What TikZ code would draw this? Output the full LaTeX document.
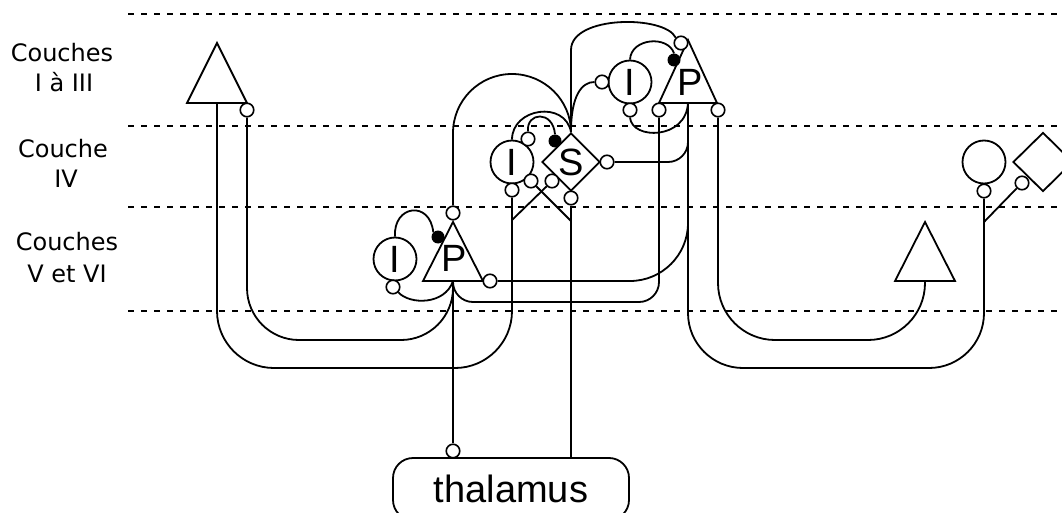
\documentclass[tikz,border=0pt]{standalone}
\usepackage{fontspec}
\setmainfont{Liberation Sans}
\newfontfamily\labfont{DejaVu Sans}
\usetikzlibrary{shapes.geometric}
\tikzset{
  layerline/.style={line width=2pt, dash pattern=on 5.5pt off 7.5pt},
  wire/.style={line width=1.8pt},
  syn/.style={circle, draw, fill=white, line width=1.6pt, minimum size=13.5pt, inner sep=0pt},
  inh/.style={circle, fill=black, minimum size=13pt, inner sep=0pt},
  inter/.style={circle, draw, fill=white, line width=1.8pt, minimum size=43pt, inner sep=0pt, font=\fontsize{38}{38}\selectfont},
  stell/.style={diamond, draw, fill=white, line width=1.8pt, minimum width=58pt, minimum height=58pt, inner sep=0pt, font=\fontsize{38}{38}\selectfont},
  letter/.style={inner sep=0pt, font=\fontsize{38}{38}\selectfont},
  lab/.style={anchor=base, inner sep=0pt, font=\labfont\fontsize{24}{30}\selectfont},
}
\begin{document}
\begin{tikzpicture}[x=1pt,y=-1pt]
\useasboundingbox (0,0) rectangle (1062,513);
% layer boundaries
\foreach \yy in {14,126,207,311} \draw[layerline] (128,\yy) -- (1062,\yy);
% layer labels
\node[lab] (l1) at (62,62) {Couches};
\node[lab] (l2) at (64,92) {I à III};
\node[lab] (l3) at (63,158) {Couche};
\node[lab] (l4) at (66,187) {IV};
\node[lab] (l5) at (67,250) {Couches};
\node[lab] (l6) at (67,282) {V et VI};
% triangles (pyramidal cells)
\coordinate (tLa) at (217,43); \coordinate (tLl) at (187,103); \coordinate (tLr) at (247,103); \coordinate (tLb) at (217,103);
\coordinate (PlA) at (453,222); \coordinate (PlL) at (423,281); \coordinate (PlR) at (483,281); \coordinate (Plb) at (453,281);
\coordinate (PuA) at (688,40); \coordinate (PuL) at (659,103); \coordinate (PuR) at (717,103); \coordinate (Pub) at (688,103);
\coordinate (TrA) at (925,222); \coordinate (TrL) at (895,281); \coordinate (TrR) at (955,281); \coordinate (Trb) at (925,281);
\draw[wire] (tLa) -- (tLl) -- (tLr) -- cycle;
\draw[wire] (PlA) -- (PlL) -- (PlR) -- cycle;
\draw[wire] (PuA) -- (PuL) -- (PuR) -- cycle;
\draw[wire] (TrA) -- (TrL) -- (TrR) -- cycle;
\node[letter] (Pl) at (454,258) {P};
\node[letter] (Pu) at (690,82) {P};
% interneurons and stellate cells
\node[inter] (Il) at (395,259) {I};
\node[inter] (Im) at (512,162) {I};
\node[inter] (Iu) at (630,82) {I};
\node[inter] (Ir) at (984,162) {};
\node[stell] (S) at (571,162) {S};
\node[stell, minimum width=60pt, minimum height=59pt] (Sr) at (1043,162) {};
% thalamus
\node[draw, line width=1.8pt, rounded corners=20pt, minimum width=236pt, minimum height=62pt, inner sep=0pt, font=\fontsize{38}{38}\selectfont] (thal) at (511,489) {thalamus};
% synapses
\node[syn] (cTL) at (247,110) {};
\node[syn] (cPla) at (453,213) {};
\node[syn] (cPlr) at (490,281) {};
\node[inh] (dPl) at (438,237) {};
\node[syn] (cIlb) at (393,287) {};
\node[syn] (cImt) at (528,139) {};
\node[syn] (cImr) at (531,181) {};
\node[syn] (cImb) at (512,190) {};
\node[syn] (cSr) at (607,162) {};
\node[syn] (cSb) at (571,198) {};
\node[syn] (cSl) at (552,181) {};
\node[inh] (dS) at (555,141) {};
\node[syn] (cIul) at (602,82) {};
\node[syn] (cIub) at (630,110) {};
\node[syn] (cPua) at (681,43) {};
\node[inh] (dPu) at (674,60) {};
\node[syn] (cPul) at (659,110) {};
\node[syn] (cPur) at (718,110) {};
\node[syn] (cIrb) at (984,191) {};
\node[syn] (cSrl) at (1022,183) {};
\node[syn] (cTh) at (453,451) {};
% junction points
\coordinate (xa) at (571,221);
\coordinate (xb) at (512,220);
\coordinate (rj) at (984,222);
% connectors
\draw[wire, rounded corners=57pt] (tLb) |- (512,368) -- (cImb.south);
\draw[wire, rounded corners=52pt] (cTL.south) |- (453,340) -- (Plb);
\draw[wire] (Plb) -- (cTh.north);
\draw[wire] (cSb.south) -- (cSb.south |- thal.north);
\draw[wire] (cImr.south east) -- (xa);
\draw[wire] (cSl.south west) -- (xb);
\draw[wire] (Il.north) .. controls (393,205) and (430,200) .. (dPl.north west);
\draw[wire] (cIlb.south east) .. controls (410,305) and (445,305) .. (Plb);
\draw[wire, rounded corners=20pt] (cPul.south) |- (453,302) -- (Plb);
\draw[wire, rounded corners=58pt] (cPlr.east) -- (688,281) -- (688,223);
\draw[wire, rounded corners=55pt] (Pub) |- (984,368) -- (cIrb.south);
\draw[wire] (rj) -- (cSrl.south west);
\draw[wire, rounded corners=57pt] (cPur.south) |- (925,340) -- (Trb);
\draw[wire, rounded corners=20pt] (cSr.east) -| (688,140);
\draw[wire] (cIub.south) .. controls (632,140) and (686,140) .. (Pub);
\draw[wire] (Iu.north) .. controls (631,38) and (668,35) .. (dPu.north);
\draw[wire] (S.north) -- (571,50) .. controls (571,15) and (665,15) .. (cPua.north west);
\draw[wire] (cPla.north) -- (453,133) .. controls (453,100.4) and (479.4,74) .. (512,74) .. controls (544.6,74) and (571,100.4) .. (S.north);
\draw[wire] (S.north) .. controls (571,95) and (582,82) .. (cIul.west);
\draw[wire] (Im.north) .. controls (512,108) and (565,100) .. (S.north);
\draw[wire] (cImt.north) .. controls (526,112) and (553,110) .. (dS.north);
\end{tikzpicture}
\end{document}
